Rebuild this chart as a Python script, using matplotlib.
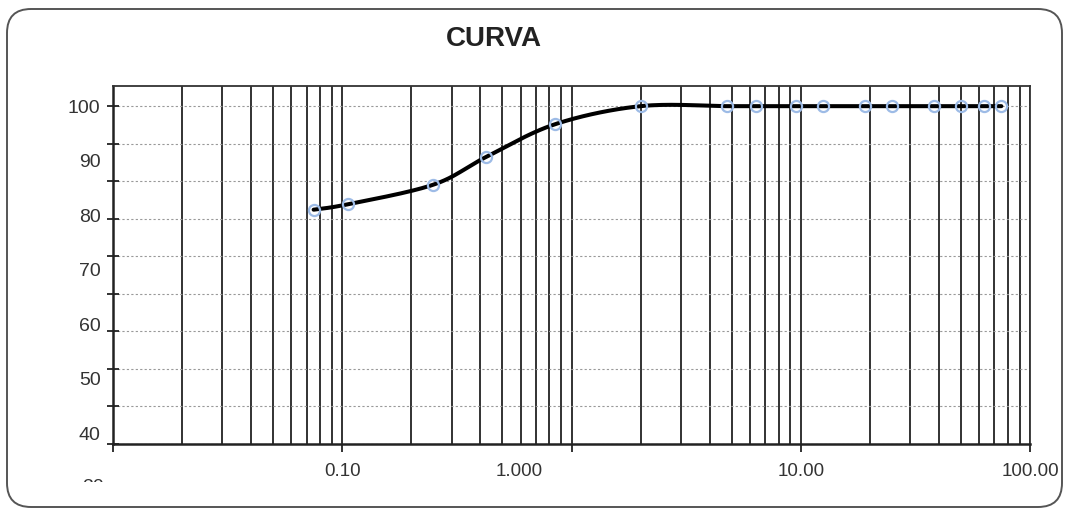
import numpy as np
import matplotlib.pyplot as plt
import matplotlib.transforms as mtransforms
from matplotlib.patches import FancyBboxPatch
from matplotlib.ticker import LogLocator, NullFormatter, FixedLocator

# sieve openings (mm) and percent passing
sieve_mm = [0.075, 0.106, 0.25, 0.425, 0.85, 2.0, 4.75, 6.35, 9.5, 12.5,
            19.0, 25.0, 38.1, 50.0, 63.0, 75.0]
passing = [81.0, 82.0, 85.6, 90.7, 96.7, 100, 100, 100, 100, 100,
           100, 100, 100, 100, 100, 100]

x_ticks = [0.01, 0.1, 1, 10, 100]
x_tick_labels = ["", "0.10", "1.000", "10.00", "100.00"]
y_labels = [100, 90, 80, 70, 60, 50, 40]

plt.rcParams['font.family'] = ['Liberation Sans', 'DejaVu Sans']


def smooth_line(xs, ys, n=40):
    # excel-like smoothed line: catmull-rom through the points, log x
    u = np.log10(xs)
    v = np.asarray(ys, dtype=float)
    pu = np.concatenate([[u[0]], u, [u[-1]]])
    pv = np.concatenate([[v[0]], v, [v[-1]]])
    out_u, out_v = [], []
    t = np.linspace(0, 1, n)
    for i in range(1, len(pu) - 2):
        for arr, out in ((pu, out_u), (pv, out_v)):
            p0, p1, p2, p3 = arr[i - 1], arr[i], arr[i + 1], arr[i + 2]
            out.extend(0.5 * ((2 * p1) + (-p0 + p2) * t
                              + (2 * p0 - 5 * p1 + 4 * p2 - p3) * t ** 2
                              + (-p0 + 3 * p1 - 3 * p2 + p3) * t ** 3))
    return 10 ** np.array(out_u), np.array(out_v)


fig = plt.figure(figsize=(10.67, 5.08), dpi=100)

# rounded frame around the whole chart
frame = FancyBboxPatch((7, 1), 1055, 498, boxstyle="round,pad=0,rounding_size=24",
                       transform=None, fill=False, edgecolor='#555555', linewidth=1.4)
fig.add_artist(frame)

ax = fig.add_axes([113 / 1067, 1 - 444 / 508, (1030 - 113) / 1067, (444 - 86) / 508])
ax.set_xscale('log')
ax.set_xlim(0.01, 100)
ymin, ymax = 38.0, 103.7
ax.set_ylim(ymin, ymax)

# vertical log grid
ax.xaxis.set_major_locator(FixedLocator(x_ticks))
ax.set_xticklabels(x_tick_labels)
ax.xaxis.set_minor_locator(LogLocator(base=10, subs=np.arange(2, 10)))
ax.xaxis.set_minor_formatter(NullFormatter())
ax.grid(True, which='both', axis='x', color='#222222', linewidth=1.3)
ax.tick_params(axis='x', which='major', direction='out', length=6, width=1.3,
               color='#222222', labelsize=13.5, labelcolor='#333333', pad=8)
ax.tick_params(axis='x', which='minor', length=0)

# y: gridlines/ticks and labels sit at different spacing, as in the source
ax.yaxis.remove_overlapping_locs = False
grid_y = np.linspace(100, ymin, 10)
ax.set_yticks(grid_y)
ax.yaxis.set_major_formatter(NullFormatter())
ax.set_yticks(y_labels, labels=[str(v) for v in y_labels], minor=True)
ax.tick_params(axis='y', which='major', direction='inout', length=9, width=1.3,
               color='#222222')
ax.tick_params(axis='y', which='minor', length=0, labelsize=14,
               labelcolor='#333333', pad=9)
ax.grid(True, which='major', axis='y', color='#999999', linewidth=0.8,
        linestyle=(0, (2, 2)))

# the "30" label is cut off by the chart area in the source
t = ax.annotate("30", xy=(0, 30), xycoords=('axes fraction', 'data'),
                xytext=(-9, 0), textcoords='offset pixels', ha='right',
                va='center', fontsize=14, color='#333333', annotation_clip=False)
t.set_clip_box(mtransforms.Bbox([[0, 508 - 482], [1067, 508]]))
t.set_clip_on(True)

for side in ['left', 'bottom']:
    ax.spines[side].set_linewidth(1.8)
    ax.spines[side].set_color('#222222')
for side in ['top', 'right']:
    ax.spines[side].set_linewidth(1.3)
    ax.spines[side].set_color('#333333')

sx, sy = smooth_line(sieve_mm, passing)
ax.plot(sx, sy, color='black', linewidth=2.9, solid_capstyle='round', zorder=3)
ax.plot(sieve_mm, passing, linestyle='none', marker='o', markersize=8,
        markerfacecolor='none', markeredgecolor='#9dbbe6', markeredgewidth=1.6,
        zorder=4)

# the "1.000" label sits left of its tick in the source
for lbl in ax.get_xticklabels():
    if lbl.get_text() == "1.000":
        lbl.set_transform(lbl.get_transform()
                          + mtransforms.ScaledTranslation(-52 / 100, 0, fig.dpi_scale_trans))

fig.text(494 / 1067, 1 - 39 / 508, "CURVA", ha='center', va='center',
         fontsize=20, fontweight='bold', color='#222222')

fig.savefig("out.png", dpi=100)
